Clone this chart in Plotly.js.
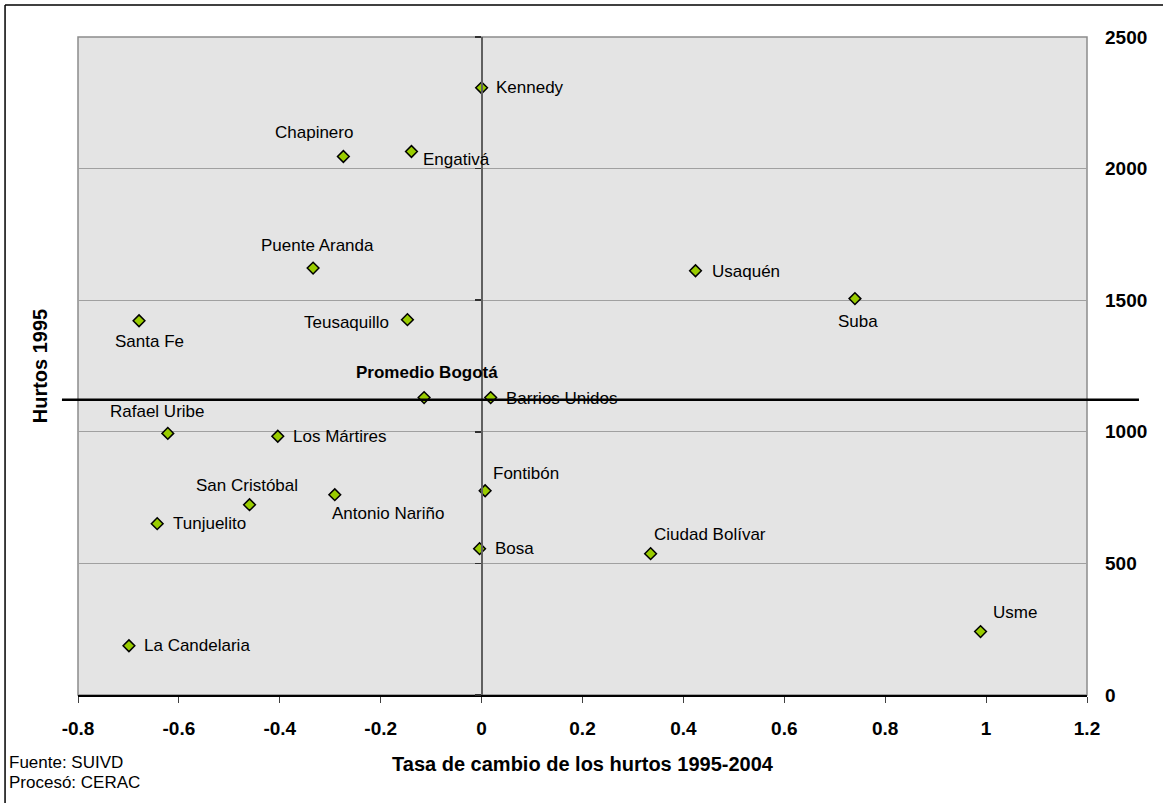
<!DOCTYPE html>
<html>
<head>
<meta charset="utf-8">
<script src="https://cdn.plot.ly/plotly-3.0.1.min.js"></script>
<style>html,body{margin:0;padding:0;background:#fff;}#chart{width:1163px;height:803px;}</style>
</head>
<body>
<div id="chart"></div>
<script>
// ---- data ----
var localidades = ['Kennedy','Engativá','Chapinero','Puente Aranda','Santa Fe','Teusaquillo','Usaquén','Suba','Promedio Bogotá','Barrios Unidos','Rafael Uribe','Los Mártires','San Cristóbal','Antonio Nariño','Tunjuelito','La Candelaria','Fontibón','Bosa','Ciudad Bolívar','Usme'];
var tasaCambio = [0.000,-0.139,-0.274,-0.334,-0.679,-0.147,0.424,0.740,-0.114,0.018,-0.622,-0.404,-0.460,-0.291,-0.643,-0.699,0.007,-0.004,0.335,0.989];
var hurtos1995 = [2307,2065,2046,1622,1422,1426,1612,1506,1130,1130,994,983,723,761,651,187,776,556,537,241];
var promedioBogota = [1122];
var xTickVals = [-0.8,-0.6,-0.4,-0.2,0,0.2,0.4,0.6,0.8,1,1.2];
var xTickText = ['-0.8','-0.6','-0.4','-0.2','0','0.2','0.4','0.6','0.8','1','1.2'];
var yTickVals = [0,500,1000,1500,2000,2500];
var yTickText = ['0','500','1000','1500','2000','2500'];
var xTitle = 'Tasa de cambio de los hurtos 1995-2004';
var yTitle = 'Hurtos 1995';
var fuente = ['Fuente: SUIVD','Procesó: CERAC'];

// ---- label placement (style only) : [xanchor, xshift, yshift] ----
var labelStyle = [
  ['left',12,0],['left',10,-8],['center',-29,24],['center',4,23],['center',10,-21],
  ['right',-16,-3],['left',14,-1],['center',3,-23],['center',3,25],['left',13,-1],
  ['center',-10,22],['left',13,0],['center',-3,19],['left',-5,-19],['left',14,0],
  ['left',13,0],['left',6,17],['left',13,0],['left',1,19],['left',10,19]
];

var FONT = '"Liberation Sans", Arial, sans-serif';

var trace = {
  x: tasaCambio, y: hurtos1995, type: 'scatter', mode: 'markers',
  marker: {symbol: 'diamond', size: 9, color: '#99CC00', line: {color: '#000', width: 1.5}},
  hoverinfo: 'text', text: localidades, showlegend: false, cliponaxis: false
};

var annotations = localidades.map(function(n, i) {
  var s = labelStyle[i];
  return {
    x: tasaCambio[i], y: hurtos1995[i], xref: 'x', yref: 'y',
    text: (n === 'Promedio Bogotá') ? '<b>' + n + '</b>' : n,
    showarrow: false, xanchor: s[0], yanchor: 'middle', xshift: s[1], yshift: s[2],
    font: {family: FONT, size: 17, color: '#000'}
  };
});
annotations.push({x: -0.0704, y: -0.1025, xref: 'paper', yref: 'paper', text: fuente[0], showarrow: false, xanchor: 'left', yanchor: 'middle', font: {family: FONT, size: 17, color: '#000'}});
annotations.push({x: -0.0704, y: -0.1329, xref: 'paper', yref: 'paper', text: fuente[1], showarrow: false, xanchor: 'left', yanchor: 'middle', font: {family: FONT, size: 17, color: '#000'}});

var layout = {
  width: 1163, height: 803,
  margin: {l: 78, r: 76, t: 37, b: 108, pad: 0},
  paper_bgcolor: '#ffffff', plot_bgcolor: '#e4e4e4',
  font: {family: FONT, color: '#000'},
  showlegend: false,
  xaxis: {
    range: [-0.8, 1.2], tickvals: xTickVals, ticktext: xTickText,
    showgrid: false, zeroline: false,
    showline: true, linecolor: '#000', linewidth: 2,
    ticks: 'outside', ticklen: 6, tickwidth: 1, tickcolor: '#404040',
    ticklabelstandoff: 9,
    tickfont: {family: FONT, size: 19, color: '#000', weight: 'bold'},
    title: {text: '<b>' + xTitle + '</b>', font: {family: FONT, size: 20, color: '#000'}, standoff: 19}
  },
  yaxis: {
    range: [0, 2500], tickvals: yTickVals, showticklabels: false,
    showgrid: true, gridcolor: '#a0a0a0', gridwidth: 1, zeroline: false,
    showline: false, ticks: '',
    title: {text: '<b>' + yTitle + '</b>', font: {family: FONT, size: 20, color: '#000'}, standoff: 24}
  },
  yaxis2: {
    overlaying: 'y', side: 'right', range: [0, 2500], tickvals: yTickVals, ticktext: yTickText,
    showgrid: false, zeroline: false, showline: false, ticks: '',
    ticklabelstandoff: 17,
    tickfont: {family: FONT, size: 19, color: '#000', weight: 'bold'}
  },
  yaxis3: {
    overlaying: 'y', anchor: 'free', position: 0.4, side: 'left', range: [0, 2500], tickvals: yTickVals,
    showgrid: false, zeroline: false, showticklabels: false,
    showline: true, linecolor: '#606060', linewidth: 2,
    ticks: 'outside', ticklen: 6, tickwidth: 1.5, tickcolor: '#303030'
  },
  shapes: [
    {type: 'rect', xref: 'paper', yref: 'paper', x0: 0, x1: 1, y0: 0, y1: 1, line: {color: '#8c8c8c', width: 1.5}, layer: 'below'},
    {type: 'line', xref: 'paper', yref: 'y', x0: -0.0159, x1: 1.0515, y0: promedioBogota[0], y1: promedioBogota[0], line: {color: '#000', width: 2.5}},
    {type: 'line', xref: 'paper', yref: 'paper', x0: -0.0723, x1: 1.08, y0: 1.0486, y1: 1.0486, line: {color: '#000', width: 1.5}},
    {type: 'line', xref: 'paper', yref: 'paper', x0: -0.0723, x1: -0.0723, y0: 1.0486, y1: -0.17, line: {color: '#000', width: 1.5}}
  ],
  annotations: annotations
};

var dummy = {x: [null], y: [null], yaxis: 'y2', type: 'scatter', showlegend: false, hoverinfo: 'skip'};
var dummy3 = {x: [null], y: [null], yaxis: 'y3', type: 'scatter', showlegend: false, hoverinfo: 'skip'};

Plotly.newPlot('chart', [dummy, dummy3, trace], layout, {displayModeBar: false, staticPlot: true});
</script>
</body>
</html>
